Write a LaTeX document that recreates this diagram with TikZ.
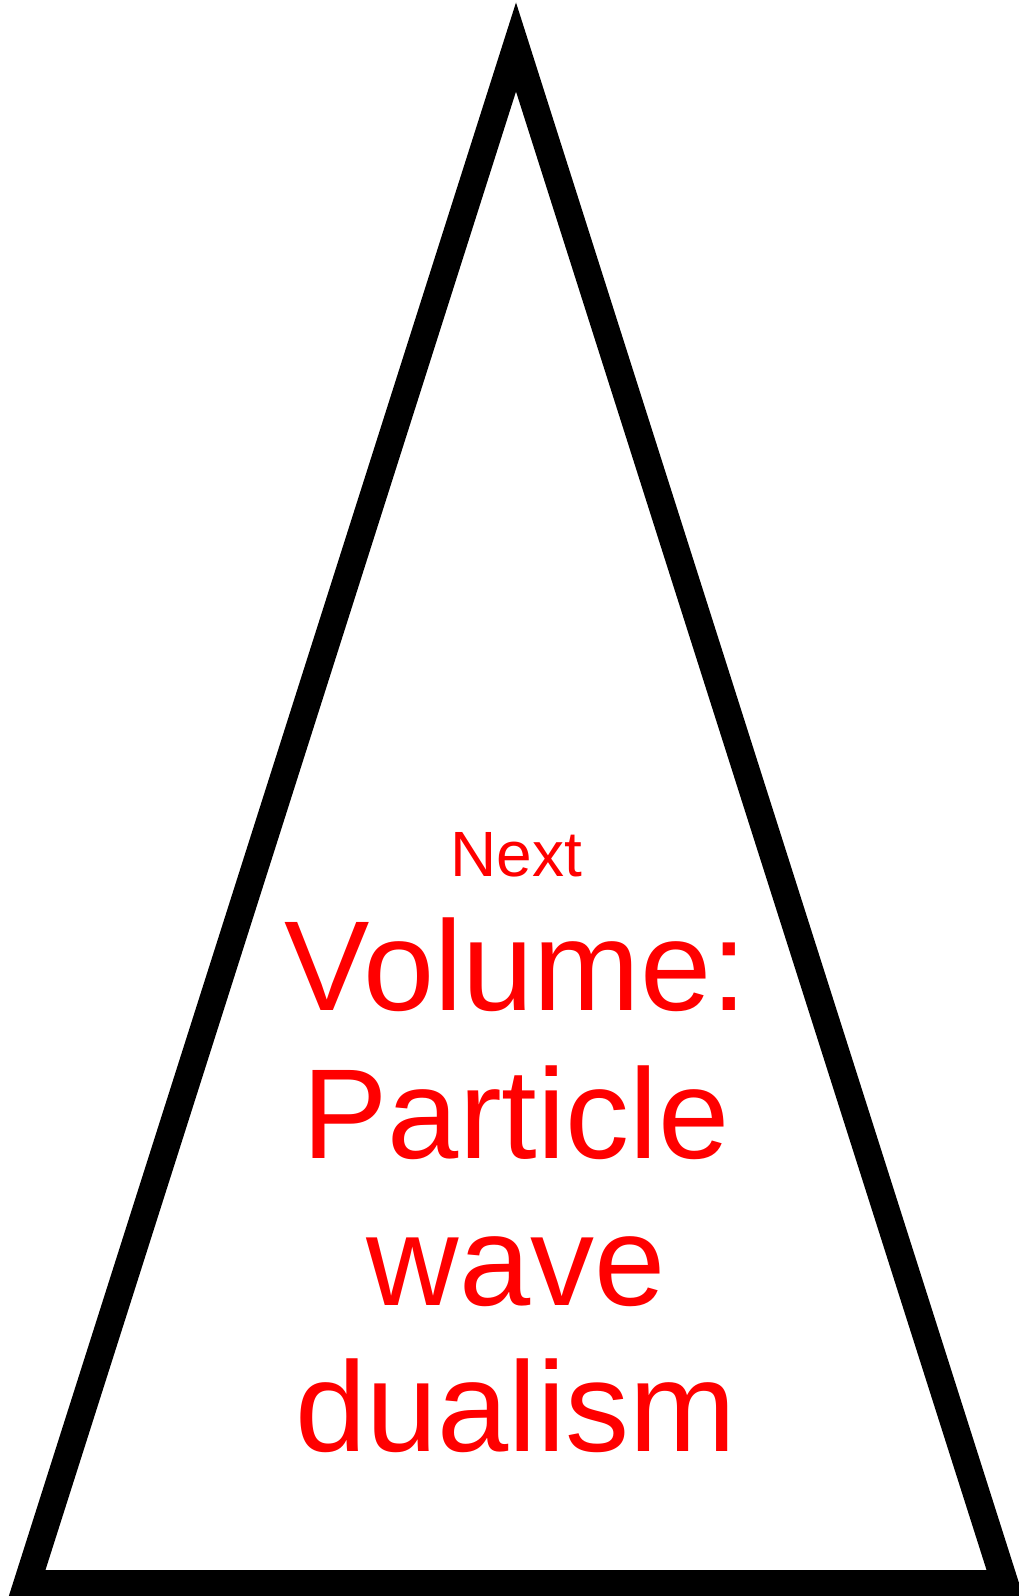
\documentclass[tikz,border=0pt]{standalone}
\usepackage{fontspec}
\setmainfont{Liberation Sans}
\begin{document}
\begin{tikzpicture}[x=1pt,y=-1pt,
  tri/.style={draw=black,line width=27pt,line join=miter},
  lbl/.style={anchor=base,text=red,inner sep=0pt},
  small/.style={lbl,font=\fontsize{64}{74}\selectfont},
  big/.style={lbl,font=\fontsize{128}{147}\selectfont}]
\useasboundingbox (0,0) rectangle (1018,1596);
\coordinate (apex) at (516,47);
\coordinate (br) at (1005,1583.5);
\coordinate (bl) at (27,1583.5);
\draw[tri] (apex) -- (br) -- (bl) -- cycle;
\node[small] (next) at (516,876) {Next};
\node[big] (l1) at (516,1010) {Volume:};
\node[big] (l2) at (516,1158) {Particle};
\node[big] (l3) at (516,1305) {wave};
\node[big] (l4) at (516,1451) {dualism};
\end{tikzpicture}
\end{document}
